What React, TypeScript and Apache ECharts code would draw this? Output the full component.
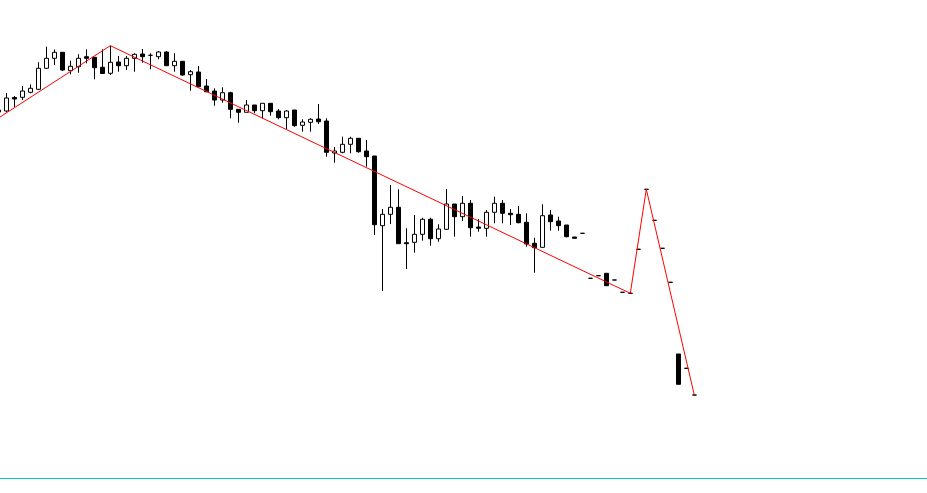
import React, { useEffect, useRef } from "react";
import * as echarts from "echarts";

// bar numbers of the candles below (first two bars lie just off the left edge)
const firstBar = -2;

// candle values per bar, starting at bar -2
const opens: (number | null)[] = [
  null, 366, 367, 380.5, 380.7, 385.7, 388.7, 409.7, 419.7, 425.7, 407.3, 411.3, 421.3, 420.7, 410.7, 404.7,
  416, 412.3, 419.7, 424, 422.7, 421.3, 426, 412.3, 416.7, 403.3, 406, 392, 387, 378, 385.3,
  368.7, 365.7, 373, 367.3, 374.7, 367, 360.3, 368, 352.7, 355.7, 359, 357, 325, 325.7, 333.7,
  339.7, 327, 322, 252.3, 263.7, 270.7, 235.3, 235.7, 243.7, 258.7, 239.3, 248.7, 274, 261.3, 274.7,
  251, 249.7, 265.7, 274.7, 264.7, 263.7, 255.7, 234.7, 230.7, 263, 257, 253, 241, 244.7, 199.7,
  202.3, 204.7, 198, 185.7, 184.7, 228.7, 288.7, 257.7, 229.7, 195.7, 124, 109.7, 83,
];
const closes: (number | null)[] = [
  null, 368, 380, 379, 387, 389.7, 409.7, 419.7, 425.7, 408, 411.7, 419.7, 419.7, 410.3, 404.5, 415.7,
  412.3, 419.7, 423.7, 421.3, 422.7, 426, 412.3, 416.7, 403, 406.3, 391.3, 386.3, 378, 385.3, 368.7,
  365.7, 373, 367.3, 374.7, 366.3, 360.3, 367, 352.3, 356, 358.7, 356.3, 325.7, 327, 333.7, 339.7,
  326.3, 321.3, 253.3, 263.7, 270.7, 234.3, 234.3, 243.7, 258.7, 239.3, 249, 274, 261.3, 274.7, 250.3,
  249.7, 265.7, 274.7, 264.7, 263.3, 255.3, 234, 230.3, 262.3, 256.3, 252.3, 241.3, 239.7, 244.7, 199.7,
  202.3, 192.3, 198, 185.7, 184.7, 228.7, 288.7, 257.7, 229.7, 195.7, 93.7, 109.7, 83,
];
const lows: (number | null)[] = [
  null, 364, 366, 371, 378, 384.7, 388, 409, 413, 407, 403.7, 405.3, 414.7, 398.7, 404.3, 403,
  406.3, 408, 406.3, 415.3, 408.7, 418.7, 412.3, 406.3, 402.3, 387.3, 391.3, 385.7, 372.3, 375.3, 359.7,
  355.3, 365.7, 364.7, 359.7, 362.3, 358.7, 348.7, 351.3, 346.3, 346.3, 354, 321.3, 315.3, 324.7, 324.7,
  325.3, 311.3, 243, 187, 254, 234.3, 209, 225.3, 237.3, 232.3, 236.3, 248, 241.3, 257, 241.3,
  246.3, 241.3, 254.7, 254.7, 253, 254.7, 231.3, 205.3, 230.3, 247.3, 247.3, 240.7, 239.7, 244.7, 199.7,
  202.3, 192.3, 198, 185.7, 184.7, 228.7, 288.7, 257.7, 229.7, 195.7, 93.7, 109.7, 83,
];
const highs: (number | null)[] = [
  null, 370, 385, 382, 392, 393.7, 415.7, 431.3, 428.5, 426, 417.3, 423.7, 428.7, 421, 428.7, 432.3,
  422, 422, 424.7, 429, 424.7, 427, 427, 424.7, 416.7, 408, 412, 399, 389.7, 390.7, 386.3,
  368.7, 378, 373, 374.7, 374.7, 369, 368, 368, 358.7, 359.7, 374, 359.7, 331, 341.3, 341.3,
  339.7, 338, 322, 269, 293, 288.7, 249.7, 263, 260.3, 260.3, 253.7, 289, 274, 282, 278,
  259, 268, 281.3, 278, 269, 272, 264.7, 240.3, 273.7, 268, 261.3, 253, 241, 244.7, 199.7,
  202.3, 204.7, 198, 185.7, 184.7, 228.7, 288.7, 257.7, 229.7, 195.7, 124, 109.7, 83,
];

// zigzag turning points: [bar number, value]
const zigzagPoints: [number, number][] = [
  [-2, 354.7],
  [13, 432.3],
  [78, 184.7],
  [80, 288.7],
  [86, 83],
];

// visible bar range of the window
const xMin = -0.7875;
const xMax = 115.0875;

export default function App() {
  const ref = useRef<HTMLDivElement>(null);
  useEffect(() => {
    document.body.style.margin = "0";
    if (!ref.current) return;
    const chart = echarts.init(ref.current, null, { renderer: "svg" });

    const candleData: number[][] = [];
    opens.forEach((o, i) => {
      if (o == null) return;
      candleData.push([firstBar + i, o, closes[i] as number, lows[i] as number, highs[i] as number]);
    });

    chart.setOption({
      animation: false,
      backgroundColor: "#ffffff",
      grid: { left: 0, right: 0, top: 0, bottom: 15, containLabel: false },
      xAxis: {
        type: "value",
        min: xMin,
        max: xMax,
        axisLine: { show: true, onZero: false, lineStyle: { color: "#00CED1", width: 1 } },
        axisTick: { show: false },
        axisLabel: { show: false },
        splitLine: { show: false },
      },
      yAxis: {
        type: "value",
        min: 0,
        max: 478,
        show: false,
        splitLine: { show: false },
      },
      series: [
        {
          type: "candlestick",
          data: candleData,
          encode: { x: 0, y: [1, 2, 3, 4] },
          barWidth: 4,
          clip: true,
          itemStyle: {
            color: "#ffffff",
            color0: "#000000",
            borderColor: "#000000",
            borderColor0: "#000000",
            borderColorDoji: "#000000",
            borderWidth: 1,
          },
        },
        {
          type: "line",
          data: zigzagPoints,
          showSymbol: false,
          symbol: "none",
          clip: true,
          lineStyle: { color: "#ff0000", width: 1 },
          z: 3,
        },
      ],
    });
    return () => chart.dispose();
  }, []);
  return (
    <div
      ref={ref}
      style={{ position: "absolute", left: 0, top: 0, width: 927, height: 493 }}
    />
  );
}
